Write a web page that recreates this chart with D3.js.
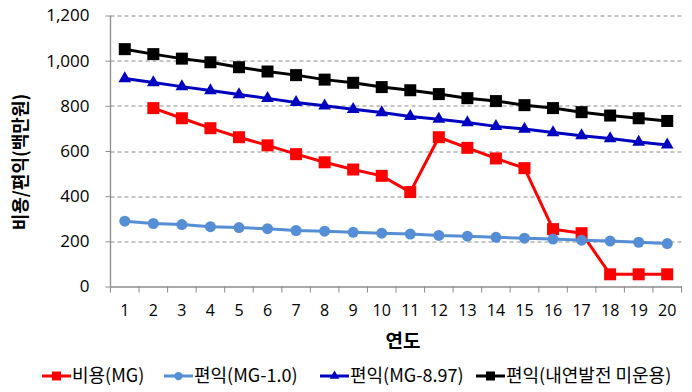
<!DOCTYPE html>
<html>
<head>
<meta charset="UTF-8">
<script src="https://cdn.jsdelivr.net/npm/d3@7"></script>
<style>
  body { margin: 0; background: #fff; }
  svg { font-family: "Noto Sans CJK KR", "Open Sans", sans-serif; }
</style>
</head>
<body>
<svg width="692" height="392"></svg>
<script>
// data
const years = d3.range(1, 21);
const costMG = [null, 790, 745, 701, 661, 625, 586, 550, 518, 490, 418, 661, 614, 567, 524, 254, 236, 54, 54, 54];
const benefit10 = [289, 279, 274, 265, 261, 256, 248, 245, 240, 236, 232, 226, 223, 218, 214, 210, 205, 201, 196, 190];
const benefit897 = [921, 903, 885, 868, 850, 833, 815, 800, 785, 770, 753, 741, 726, 709, 697, 682, 668, 655, 640, 627];
const benefitNone = [1051, 1029, 1009, 993, 971, 952, 936, 916, 902, 883, 869, 852, 834, 821, 803, 790, 772, 757, 745, 733];
const yTicks = [0, 200, 400, 600, 800, 1000, 1200];

const series = [
  { name: "비용(MG)", values: costMG, color: "#ff0000", shape: "square" },
  { name: "편익(MG-1.0)", values: benefit10, color: "#558ed5", shape: "circle" },
  { name: "편익(MG-8.97)", values: benefit897, color: "#0000c0", shape: "triangle" },
  { name: "편익(내연발전 미운용)", values: benefitNone, color: "#000000", shape: "square" }
];

const svg = d3.select("svg");
const margin = { left: 110.5, right: 10.5, top: 15.5, bottom: 105.5 };
const width = 692 - margin.left - margin.right;
const height = 392 - margin.top - margin.bottom;

const x = d3.scaleBand().domain(years).range([0, width]);
const y = d3.scaleLinear().domain([0, 1200]).range([height, 0]);

const g = svg.append("g").attr("transform", `translate(${margin.left},${margin.top})`);

// grid
g.selectAll(".grid")
  .data(yTicks.filter(d => d > 0))
  .enter().append("line")
  .attr("x1", 0).attr("x2", width)
  .attr("y1", d => Math.round(y(d)) + 0.5).attr("y2", d => Math.round(y(d)) + 0.5)
  .attr("stroke", "#8c8c8c")
  .attr("stroke-dasharray", "4,3");

// axes
const yAxis = g.append("g")
  .call(d3.axisLeft(y).tickValues(yTicks).tickSize(5).tickPadding(16).tickFormat(d3.format(",")));
const xAxis = g.append("g")
  .attr("transform", `translate(0,${height})`)
  .call(d3.axisBottom(x).tickSize(0).tickPadding(18));

[yAxis, xAxis].forEach(a => {
  a.select(".domain").attr("stroke", "#8c8c8c").attr("stroke-width", 1.3);
  a.selectAll(".tick line").attr("stroke", "#8c8c8c");
  a.selectAll("text").attr("font-size", 16).attr("fill", "#000")
    .attr("font-family", "\"Open Sans\", sans-serif");
});
yAxis.selectAll("text").attr("font-size", 17);
yAxis.select(".domain").attr("d", `M0,0V${height}`);

// category boundary ticks under x axis
g.append("g").selectAll("line")
  .data(d3.range(0, 21))
  .enter().append("line")
  .attr("x1", d => d * x.step()).attr("x2", d => d * x.step())
  .attr("y1", height).attr("y2", height + 6)
  .attr("stroke", "#8c8c8c");

const cx = d => x(d) + x.bandwidth() / 2;

function marker(sel, shape, color) {
  if (shape === "circle") {
    sel.append("circle").attr("r", 5.5).attr("fill", color);
  } else if (shape === "square") {
    sel.append("rect").attr("x", -6).attr("y", -6).attr("width", 12).attr("height", 12).attr("fill", color);
  } else {
    sel.append("path").attr("d", d3.symbol(d3.symbolTriangle, 70)()).attr("fill", color);
  }
}

series.forEach(s => {
  const pts = years.map((yr, i) => ({ yr, v: s.values[i] })).filter(p => p.v != null);
  const line = d3.line().x(p => cx(p.yr)).y(p => y(p.v));
  g.append("path")
    .datum(pts)
    .attr("d", line)
    .attr("fill", "none")
    .attr("stroke", s.color)
    .attr("stroke-width", 3);
  g.append("g").selectAll("g")
    .data(pts)
    .enter().append("g")
    .attr("transform", p => `translate(${cx(p.yr)},${y(p.v)})`)
    .each(function() { marker(d3.select(this), s.shape, s.color); });
});

// axis titles
svg.append("text")
  .attr("transform", "translate(27,162) rotate(-90)")
  .attr("text-anchor", "middle")
  .attr("font-size", 18)
  .attr("font-weight", "bold")
  .text("비용/편익(백만원)");

svg.append("text")
  .attr("x", 403).attr("y", 348)
  .attr("text-anchor", "middle")
  .attr("font-size", 19)
  .attr("font-weight", "bold")
  .text("연도");

// legend
const legendX = [42, 164, 320, 476];
const legend = svg.append("g");
series.forEach((s, i) => {
  const lg = legend.append("g").attr("transform", `translate(${legendX[i]},376)`);
  lg.append("line").attr("x1", 0).attr("x2", 29).attr("stroke", s.color).attr("stroke-width", 3);
  const m = lg.append("g").attr("transform", "translate(14.5,0) scale(0.75)");
  marker(m, s.shape, s.color);
  lg.append("text")
    .attr("x", 30).attr("y", 0)
    .attr("dy", "0.35em")
    .attr("font-size", 18)
    .text(s.name);
});
</script>
</body>
</html>
